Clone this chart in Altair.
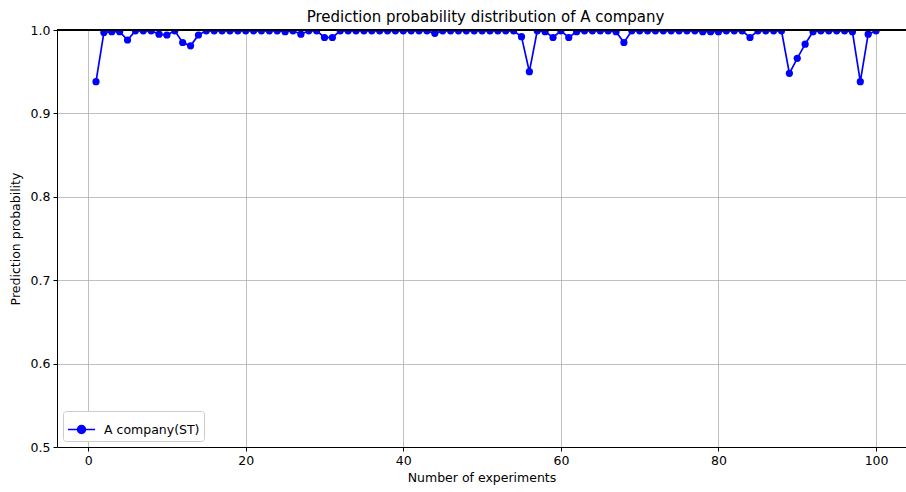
import altair as alt
import pandas as pd

# Experiment index and the predicted probability recorded for each run
experiments = list(range(1, 101))
probabilities = [
    0.938, 0.997, 0.998, 0.998, 0.988, 0.999, 0.999, 0.999, 0.995, 0.994,
    0.999, 0.985, 0.981, 0.994, 0.999, 0.999, 0.999, 0.999, 0.999, 0.999,
    0.999, 0.999, 0.999, 0.999, 0.998, 0.999, 0.995, 0.999, 0.999, 0.991,
    0.991, 0.999, 0.999, 0.999, 0.999, 0.999, 0.999, 0.999, 0.999, 0.999,
    0.999, 0.999, 0.999, 0.996, 0.999, 0.999, 0.999, 0.999, 0.999, 0.999,
    0.999, 0.999, 0.999, 0.999, 0.992, 0.950, 0.999, 0.998, 0.991, 0.999,
    0.991, 0.998, 0.999, 0.999, 0.999, 0.999, 0.998, 0.985, 0.999, 0.999,
    0.999, 0.999, 0.999, 0.999, 0.999, 0.999, 0.999, 0.998, 0.998, 0.998,
    0.999, 0.999, 0.999, 0.991, 0.999, 0.999, 0.999, 0.999, 0.948, 0.966,
    0.983, 0.998, 0.999, 0.999, 0.999, 0.999, 0.998, 0.938, 0.995, 0.999,
]
series_name = "A company(ST)"
x_ticks = [0, 20, 40, 60, 80, 100]
y_ticks = [0.5, 0.6, 0.7, 0.8, 0.9, 1.0]

df = pd.DataFrame({
    "experiment": experiments,
    "probability": probabilities,
    "series": [series_name] * len(experiments),
})

BLUE = "#0000ff"
FONT = "DejaVu Sans"

x_enc = alt.X(
    "experiment:Q",
    scale=alt.Scale(domain=[-3.95, 103.8], nice=False, zero=False),
    axis=alt.Axis(values=x_ticks, format="d", title="Number of experiments"),
)
y_enc = alt.Y(
    "probability:Q",
    scale=alt.Scale(domain=[0.5, 1.0], nice=False, zero=False),
    axis=alt.Axis(values=y_ticks, format=".1f", title="Prediction probability",
                  titleX=-35),
)

# Legend symbol: a short line with a dot in the middle
line_dot_symbol = (
    "M-1,0H1"
    "M-0.29,0A0.29,0.29,0,1,1,0.29,0A0.29,0.29,0,1,1,-0.29,0Z"
)

color_enc = alt.Color(
    "series:N",
    scale=alt.Scale(range=[BLUE]),
    legend=alt.Legend(
        title=None,
        orient="bottom-left",
        offset=6,
        symbolType=line_dot_symbol,
        symbolSize=740,
        symbolStrokeWidth=1.6,
        symbolFillColor=BLUE,
        symbolStrokeColor=BLUE,
        labelFontSize=12.5,
        labelFont=FONT,
        labelColor="#000000",
        labelOffset=8,
        padding=4,
        strokeColor="#cccccc",
        fillColor="#ffffff",
        cornerRadius=3,
    ),
)

line = alt.Chart(df).mark_line(clip=True, strokeWidth=1.7).encode(
    x=x_enc, y=y_enc, color=color_enc
)
points = alt.Chart(df).mark_point(
    clip=True, filled=True, size=52, opacity=1, shape="circle"
).encode(
    x=x_enc, y=y_enc,
    color=alt.Color("series:N", scale=alt.Scale(range=[BLUE]), legend=None),
)
top_spine = alt.Chart(df).mark_rule(color="#000000", strokeWidth=1).encode(
    y=alt.datum(1.0)
)

chart = (
    alt.layer(line, points, top_spine)
    .properties(
        width=849,
        height=417,
        padding={"left": 57, "top": 30, "right": 0, "bottom": 45},
        autosize=alt.AutoSizeParams(type="none"),
        title=alt.TitleParams(
            "Prediction probability distribution of A company",
            fontSize=15,
            font=FONT,
            fontWeight="normal",
            color="#000000",
            anchor="middle",
            dx=4,
            offset=-1,
        ),
    )
    .configure_view(stroke=None)
    .configure_axis(
        labelFont=FONT,
        titleFont=FONT,
        labelFontSize=12.5,
        titleFontSize=12.5,
        titleFontWeight="normal",
        labelColor="#000000",
        titleColor="#000000",
        domainColor="#000000",
        domainWidth=1,
        tickColor="#000000",
        tickSize=4,
        tickWidth=1,
        gridColor="#b0b0b0",
        gridWidth=0.8,
        grid=True,
    )
    .configure_axisX(labelPadding=3, titlePadding=5)
    .configure_axisY(labelPadding=3)
)

chart.save("out.html", embed_options={"renderer": "svg", "actions": False})
